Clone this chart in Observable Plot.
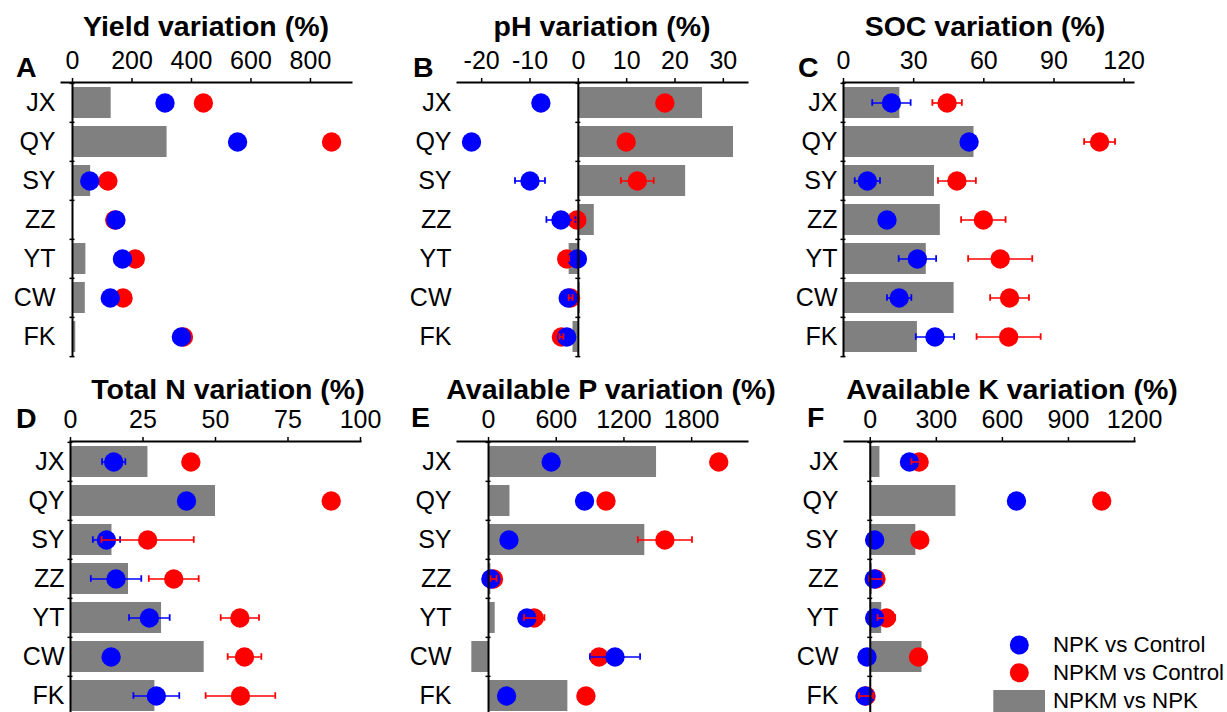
<!DOCTYPE html>
<html>
<head>
<meta charset="utf-8">
<script src="https://cdn.jsdelivr.net/npm/d3@7"></script>
<script src="https://cdn.jsdelivr.net/npm/@observablehq/plot@0.6"></script>
<style>
  html, body { margin: 0; padding: 0; background: #fff; }
  #root { position: relative; width: 1227px; height: 712px; overflow: hidden; background: #fff; font-family: "Liberation Sans", Arial, sans-serif; }
  #root svg { position: absolute; }
</style>
</head>
<body>
<div id="root"></div>
<script>
// ---------- data ----------
const sites = ["JX", "QY", "SY", "ZZ", "YT", "CW", "FK"];

// A: Yield
const yieldBar  = [130, 318, 61, 1, 45, 43, 11];
const yieldNPK  = [311, 555, 58, 146, 168, 127, 366];
const yieldNPKM = [440, 871, 119, 142, 211, 170, 373];

// B: pH
const phBar     = [25.7, 32.1, 22.2, 3.3, -1.9, 0.4, -1.1];
const phNPK     = [-7.75, -22.1, -10.0, -3.6, -0.2, -2.1, -2.4];
const phNPKErr  = [0, 0, 3.1, 3.0, 0, 0, 0];
const phNPKM    = [17.9, 9.9, 12.2, -0.3, -2.4, -1.6, -3.5];
const phNPKMErr = [0, 0, 3.4, 0.8, 0.5, 0.4, 0.4];

// C: SOC
const socBar     = [24.1, 55.8, 38.9, 41.4, 35.4, 47.3, 31.6];
const socNPK     = [20.5, 53.7, 10.2, 18.6, 31.6, 23.8, 39.1];
const socNPKErr  = [8.2, 0, 5.4, 0, 8.0, 5.2, 8.2];
const socNPKM    = [44.3, 109.5, 48.5, 59.8, 67.0, 71.0, 70.6];
const socNPKMErr = [6.3, 6.6, 8.1, 9.5, 13.7, 8.3, 13.7];

// D: Total N
const nBar     = [26.7, 50.0, 14.3, 20.0, 31.4, 46.1, 29.1];
const nNPK     = [14.9, 40.0, 12.4, 15.7, 27.2, 14.0, 29.6];
const nNPKErr  = [4.0, 0, 4.7, 8.7, 7.0, 0, 7.9];
const nNPKM    = [41.5, 89.9, 26.6, 35.6, 58.4, 60.0, 58.6];
const nNPKMErr = [0, 0, 15.9, 8.6, 6.6, 5.8, 12.0];

// E: Available P
const pBar     = [1489, 190, 1385, 21, 59, -148, 703];
const pNPK     = [555, 851, 181, 21, 340, 1121, 160];
const pNPKErr  = [0, 0, 0, 0, 0, 222, 0];
const pNPKM    = [2040, 1041, 1563, 44, 405, 979, 863];
const pNPKMErr = [0, 0, 240, 27, 90, 0, 0];

// F: Available K
const kBar     = [44, 389, 207, 9, 52, 235, -2];
const kNPK     = [178, 664, 20, 18, 20, -15, -24];
const kNPKErr  = [0, 0, 0, 0, 0, 0, 0];
const kNPKM    = [222, 1051, 225, 26, 73, 219, -19];
const kNPKMErr = [35, 0, 0, 30, 40, 0, 32];

// tick labels
const ticksA = [0, 200, 400, 600, 800];
const ticksB = [-20, -10, 0, 10, 20, 30];
const ticksC = [0, 30, 60, 90, 120];
const ticksD = [0, 25, 50, 75, 100];
const ticksE = [0, 600, 1200, 1800];
const ticksF = [0, 300, 600, 900, 1200];

const legendLabels = ["NPK vs Control", "NPKM vs Control", "NPKM vs NPK"];

// ---------- layout ----------
const FONT = '"Liberation Sans", Arial, sans-serif';
const BLUE = "#0000ff", RED = "#ff0000", GRAY = "#808080";
const PW = 290, PH = 275;
const mL = 70, mR = 12, mT = 46, mB = 4;

const panels = [
  {letter: "A", title: "Yield variation (%)", left: 61, top: 81.5, domain: [-37, 938], ticks: ticksA,
   bar: yieldBar, npk: yieldNPK, npkErr: null, npkm: yieldNPKM, npkmErr: null,
   tx: 206, ty: 35.7, lx: 16, ly: 77},
  {letter: "B", title: "pH variation (%)", left: 457, top: 81.5, domain: [-25, 35], ticks: ticksB,
   bar: phBar, npk: phNPK, npkErr: phNPKErr, npkm: phNPKM, npkmErr: phNPKMErr,
   tx: 602, ty: 35.7, lx: 413, ly: 77},
  {letter: "C", title: "SOC variation (%)", left: 843.3, top: 81.5, domain: [0, 124], ticks: ticksC,
   bar: socBar, npk: socNPK, npkErr: socNPKErr, npkm: socNPKM, npkmErr: socNPKMErr,
   tx: 985, ty: 35.7, lx: 798, ly: 77},
  {letter: "D", title: "Total N variation (%)", left: 70, top: 440.5, domain: [0, 100], ticks: ticksD,
   bar: nBar, npk: nNPK, npkErr: nNPKErr, npkm: nNPKM, npkmErr: nNPKMErr,
   tx: 228, ty: 398.5, lx: 16, ly: 427.5},
  {letter: "E", title: "Available P variation (%)", left: 457, top: 440.5, domain: [-275, 2295], ticks: ticksE,
   bar: pBar, npk: pNPK, npkErr: pNPKErr, npkm: pNPKM, npkmErr: pNPKMErr,
   tx: 611, ty: 398.5, lx: 411, ly: 427},
  {letter: "F", title: "Available K variation (%)", left: 844.3, top: 440.5, domain: [-117, 1200], ticks: ticksF,
   bar: kBar, npk: kNPK, npkErr: kNPKErr, npkm: kNPKM, npkmErr: kNPKMErr,
   tx: 1012, ty: 398.5, lx: 807, ly: 427}
];

const root = document.getElementById("root");
const step = PH / sites.length;

function rows(vals, errs) {
  return sites.map((s, i) => ({site: s, v: vals[i], e: errs ? errs[i] : 0}));
}

function errMarks(data, color) {
  const d = data.filter(r => r.e > 0);
  const capInset = (step * 0.8 - 7) / 2;
  return [
    Plot.ruleY(d, {y: "site", x1: r => r.v - r.e, x2: r => r.v + r.e, stroke: color, strokeWidth: 1.6}),
    Plot.tickX(d, {y: "site", x: r => r.v - r.e, stroke: color, strokeWidth: 1.8, insetTop: capInset, insetBottom: capInset}),
    Plot.tickX(d, {y: "site", x: r => r.v + r.e, stroke: color, strokeWidth: 1.8, insetTop: capInset, insetBottom: capInset})
  ];
}

for (const p of panels) {
  const barData = rows(p.bar, null);
  const npkData = rows(p.npk, p.npkErr);
  const npkmData = rows(p.npkm, p.npkmErr);
  const hw = 2.5 * (p.domain[1] - p.domain[0]) / PW;

  const chart = Plot.plot({
    width: mL + PW + mR,
    height: mT + PH + mB,
    marginLeft: mL, marginRight: mR, marginTop: mT, marginBottom: mB,
    style: {fontFamily: FONT, fontSize: "25px", background: "transparent", overflow: "visible", color: "#000"},
    x: {domain: p.domain, axis: null, label: null},
    y: {domain: sites, paddingInner: 0.2, paddingOuter: 0.1, axis: null, label: null},
    marks: [
      Plot.barX(barData, {y: "site", x1: 0, x2: "v", fill: GRAY}),
      Plot.dot(npkmData, {y: "site", x: "v", r: 9.7, fill: RED}),
      Plot.dot(npkData, {y: "site", x: "v", r: 9.7, fill: BLUE}),
      ...errMarks(npkData, BLUE),
      ...errMarks(npkmData, RED),
      Plot.ruleX([0], {stroke: "#000", strokeWidth: 2}),
      Plot.ruleY(sites, {y: d => d, x1: -hw, x2: hw, dy: -step / 2, stroke: "#000", strokeWidth: 1.5}),
      Plot.ruleY([sites[sites.length - 1]], {y: d => d, x1: -hw, x2: hw, dy: step / 2, stroke: "#000", strokeWidth: 1.5}),
      Plot.frame({anchor: "top", stroke: "#000", strokeWidth: 2}),
      Plot.axisX({anchor: "top", label: null, ticks: p.ticks, tickFormat: d => String(d), tickSize: 5, tickPadding: 9,
                  fontSize: 25, strokeWidth: 1.5, fill: "#000"}),
      Plot.axisY({anchor: "left", label: null, tickSize: 0, tickPadding: 6, fontSize: 25, fill: "#000"})
    ]
  });
  chart.style.left = (p.left - mL) + "px";
  chart.style.top = (p.top - mT) + "px";
  root.appendChild(chart);
}

// ---------- overlay: titles, panel letters, legend ----------
const ov = d3.select(root).append("svg")
  .attr("width", 1227).attr("height", 712)
  .style("left", "0px").style("top", "0px")
  .style("font-family", FONT);

ov.selectAll("text.title").data(panels).join("text")
  .attr("class", "title")
  .attr("x", d => d.tx).attr("y", d => d.ty)
  .attr("text-anchor", "middle")
  .attr("font-size", 28.5).attr("font-weight", "bold")
  .text(d => d.title);

ov.selectAll("text.letter").data(panels).join("text")
  .attr("class", "letter")
  .attr("x", d => d.lx).attr("y", d => d.ly)
  .attr("font-size", 28.5).attr("font-weight", "bold")
  .text(d => d.letter);

// legend
const lg = ov.append("g");
lg.append("circle").attr("cx", 1019.3).attr("cy", 645).attr("r", 9.5).attr("fill", BLUE);
lg.append("circle").attr("cx", 1019.3).attr("cy", 672.7).attr("r", 9.5).attr("fill", RED);
lg.append("rect").attr("x", 993.3).attr("y", 690).attr("width", 51.7).attr("height", 30).attr("fill", GRAY);
const ly = [652.3, 680, 708.3];
lg.selectAll("text").data(legendLabels).join("text")
  .attr("x", 1053).attr("y", (d, i) => ly[i])
  .attr("font-size", 22.3)
  .text(d => d);
</script>
</body>
</html>
